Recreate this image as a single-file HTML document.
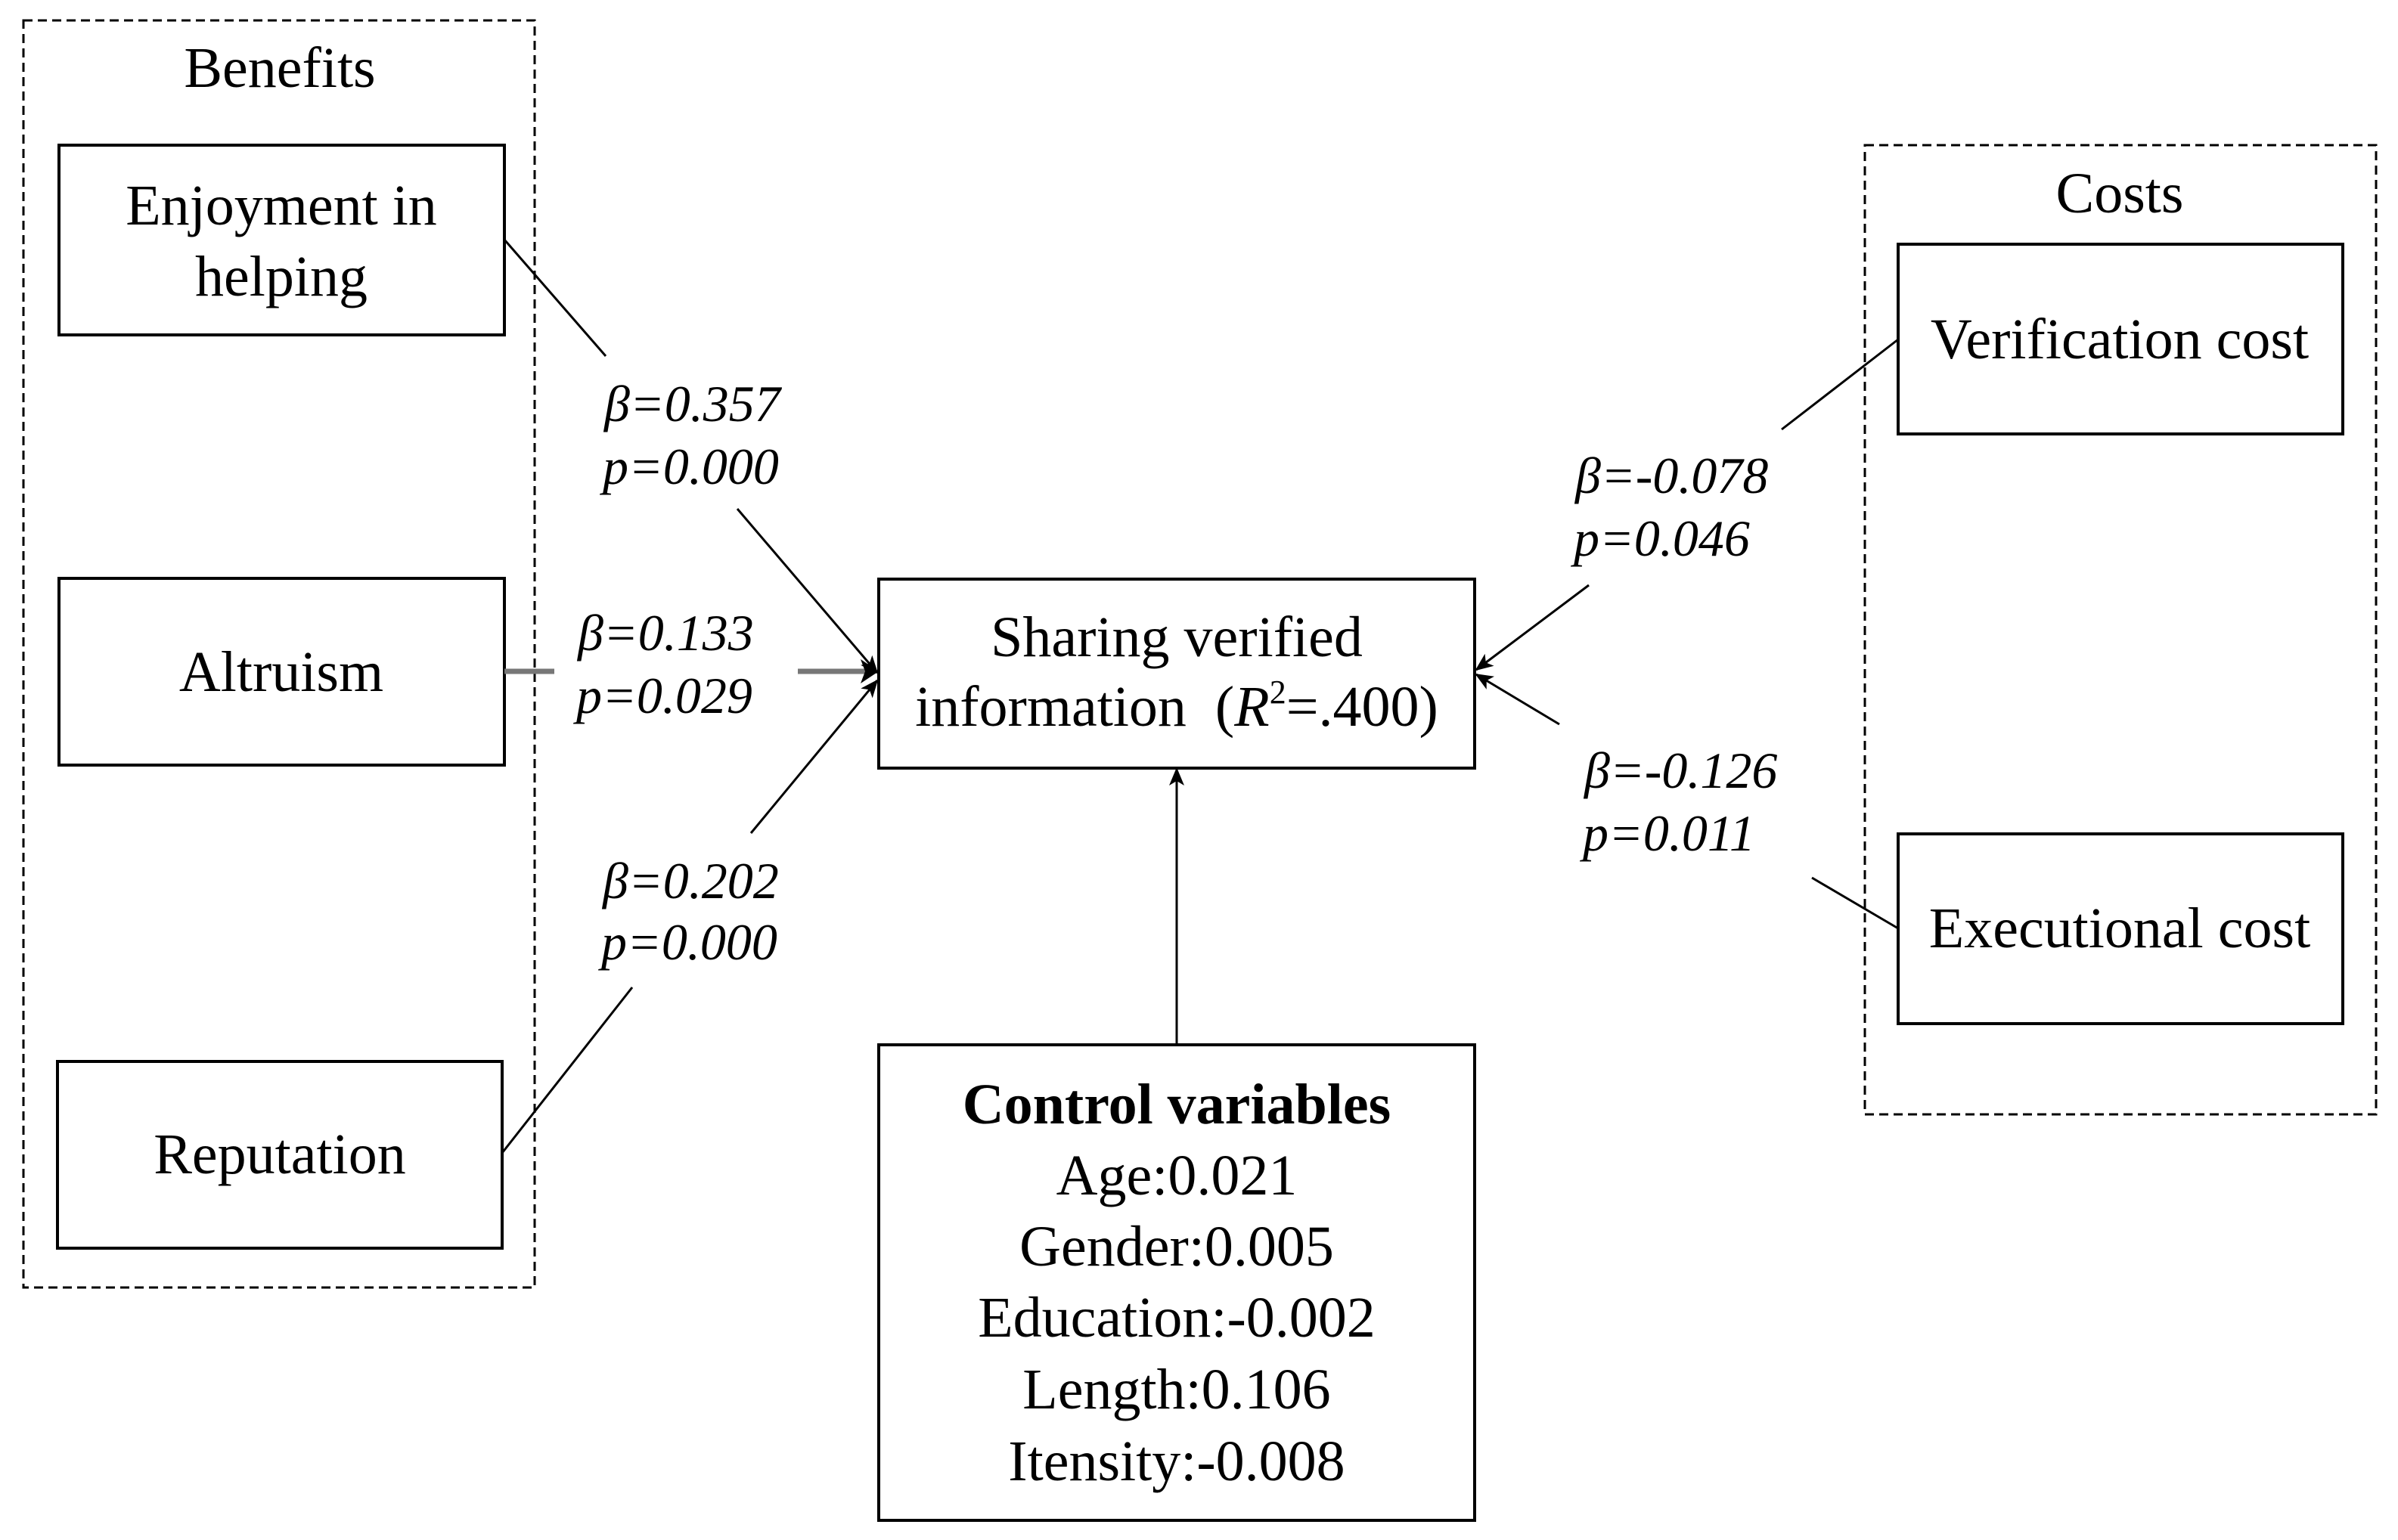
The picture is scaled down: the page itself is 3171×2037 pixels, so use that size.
<!DOCTYPE html>
<html><head><meta charset="utf-8"><style>
html,body{margin:0;padding:0;background:#fff;}
svg{display:block;}
text{font-family:"Liberation Serif",serif;fill:#000;}
.t{font-size:76px;text-anchor:middle;dominant-baseline:central;}
.i{font-size:68px;font-style:italic;dominant-baseline:central;}
</style></head><body>
<svg width="3171" height="2037" viewBox="0 0 3171 2037" xmlns="http://www.w3.org/2000/svg">
<defs>
<marker id="a" markerWidth="10" markerHeight="10" refX="9" refY="5" orient="auto" markerUnits="userSpaceOnUse" viewBox="0 0 10 10">
<path d="M0,0 L10,5 L0,10 z" fill="#000"/></marker>
<marker id="b" markerWidth="24" markerHeight="24" refX="22" refY="12" orient="auto" markerUnits="userSpaceOnUse" viewBox="0 0 24 24">
<path d="M0,2 L24,12 L0,22 L6,12 z" fill="#000"/></marker>
</defs>
<!-- dashed groups -->
<rect x="31" y="27" width="676" height="1676" fill="none" stroke="#000" stroke-width="3" stroke-dasharray="12,7"/>
<rect x="2466" y="192" width="676" height="1282" fill="none" stroke="#000" stroke-width="3" stroke-dasharray="12,7"/>
<text class="t" x="370" y="90">Benefits</text>
<text class="t" x="2803" y="256">Costs</text>
<!-- boxes -->
<g fill="#fff" stroke="#000" stroke-width="4">
<rect x="78" y="192" width="589" height="251"/>
<rect x="78" y="765" width="589" height="247"/>
<rect x="76" y="1404" width="588" height="247"/>
<rect x="1162" y="766" width="788" height="250"/>
<rect x="1162" y="1382" width="788" height="629"/>
<rect x="2510" y="323" width="588" height="251"/>
<rect x="2510" y="1103" width="588" height="251"/>
</g>
<text class="t" x="372" y="272">Enjoyment in</text>
<text class="t" x="372" y="366">helping</text>
<text class="t" x="372" y="889">Altruism</text>
<text class="t" x="370" y="1527">Reputation</text>
<text class="t" x="1556" y="843">Sharing verified</text>
<text class="t" x="1556" y="935">information&#160;&#160;(<tspan font-style="italic">R</tspan><tspan font-size="44" dy="-20">2</tspan><tspan dy="20">=.400)</tspan></text>
<text class="t" x="1556" y="1461" font-weight="bold">Control variables</text>
<text class="t" x="1556" y="1555">Age:0.021</text>
<text class="t" x="1556" y="1649">Gender:0.005</text>
<text class="t" x="1556" y="1743">Education:-0.002</text>
<text class="t" x="1556" y="1838">Length:0.106</text>
<text class="t" x="1556" y="1933">Itensity:-0.008</text>
<text class="t" x="2803" y="449">Verification cost</text>
<text class="t" x="2803" y="1228">Executional cost</text>
<!-- labels -->
<text class="i" x="799" y="534">β=0.357</text>
<text class="i" x="797" y="617">p=0.000</text>
<text class="i" x="764" y="837">β=0.133</text>
<text class="i" x="762" y="920">p=0.029</text>
<text class="i" x="797" y="1165">β=0.202</text>
<text class="i" x="795" y="1246">p=0.000</text>
<text class="i" x="2083" y="629">β=-0.078</text>
<text class="i" x="2081" y="712">p=0.046</text>
<text class="i" x="2095" y="1019">β=-0.126</text>
<text class="i" x="2093" y="1102">p=0.011</text>
<!-- connectors -->
<g stroke="#000" stroke-width="3" fill="none">
<line x1="667" y1="317" x2="801" y2="471"/>
<line x1="975" y1="673" x2="1160" y2="890" marker-end="url(#b)"/>
<line x1="664" y1="1525" x2="836" y2="1306"/>
<line x1="993" y1="1102" x2="1160" y2="900" marker-end="url(#b)"/>
<line x1="2510" y1="449" x2="2356" y2="568"/>
<line x1="2101" y1="774" x2="1952" y2="886" marker-end="url(#b)"/>
<line x1="2510" y1="1228" x2="2396" y2="1161"/>
<line x1="2062" y1="958" x2="1952" y2="892" marker-end="url(#b)"/>
<line x1="1556" y1="1382" x2="1556" y2="1017" marker-end="url(#b)"/>
</g>
<g stroke="#777" stroke-width="7" fill="none">
<line x1="667" y1="888" x2="733" y2="888"/>
<line x1="1055" y1="888" x2="1145" y2="888"/>
</g>
<path d="M1138,872 L1162,888 L1138,904 L1144,888 z" fill="#000"/>
</svg>
</body></html>
